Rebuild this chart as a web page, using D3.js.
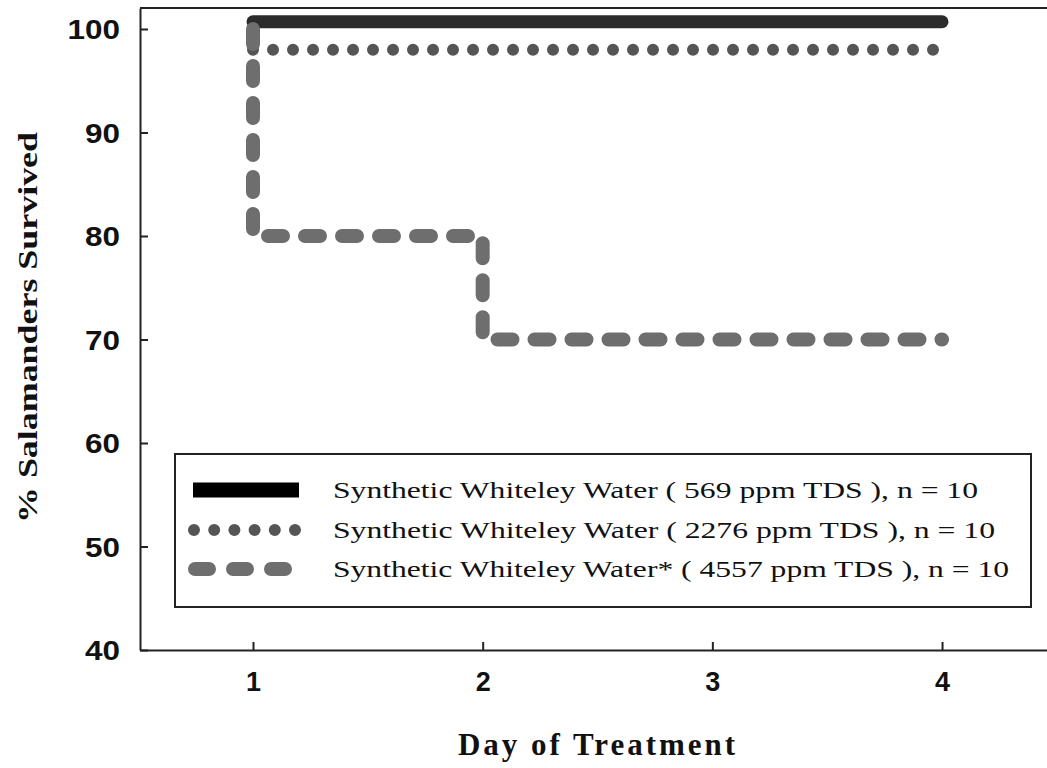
<!DOCTYPE html>
<html lang="en">
<head>
	<meta charset="UTF-8">
	<title>Salamander survival</title>
	<script src="https://cdn.jsdelivr.net/npm/d3@7"></script>
	<style>
		html,body{margin:0;padding:0;background:#fff;}
		svg{display:block;}
		.serif{font-family:"Liberation Serif","Times New Roman","DejaVu Serif",serif;}
	</style>
</head>
<body>
	<div id="main"></div>
	<script>
		// data
		var days = [1, 2, 3, 4];
		var yTicks = [40, 50, 60, 70, 80, 90, 100];
		var labels = [
			"Synthetic Whiteley Water ( 569 ppm TDS ), n = 10",
			"Synthetic Whiteley Water ( 2276 ppm TDS ), n = 10",
			"Synthetic Whiteley Water* ( 4557 ppm TDS ), n = 10"
		];
		var days569 = [1, 4], surv569 = [100.7, 100.7];
		var days2276 = [1, 4], surv2276 = [98, 98];
		var days4557 = [1, 1, 2, 4], surv4557 = [100, 80, 70, 70];

		var W = 1047, H = 768;
		var svg = d3.select("#main").append("svg").attr("width", W).attr("height", H);

		var x = d3.scaleLinear().domain([0.508, 4.457]).range([140, 1047]);
		var y = d3.scaleLinear().domain([40, 102]).range([650, 8.3]);

		var axisFont = "'Liberation Sans', Arial, sans-serif";

		// frame: left, bottom and top lines
		svg.append("line").attr("x1", 140).attr("x2", W).attr("y1", 8).attr("y2", 8)
			.attr("stroke", "#222").attr("stroke-width", 2);

		var xAxis = svg.append("g").attr("transform", "translate(0,650)")
			.call(d3.axisBottom(x).tickValues(days).tickSizeInner(-8).tickSizeOuter(0).tickPadding(22).tickFormat(d3.format("d")));
		var yAxis = svg.append("g").attr("transform", "translate(140,0)")
			.call(d3.axisLeft(y).tickValues(yTicks).tickSizeInner(-8).tickSizeOuter(0).tickPadding(20));
		[xAxis, yAxis].forEach(function(a){
			a.select(".domain").attr("stroke", "#222").attr("stroke-width", 2);
			a.selectAll(".tick line").attr("stroke", "#222").attr("stroke-width", 2);
			a.selectAll(".tick text").attr("fill", "#111").attr("font-family", axisFont)
				.attr("font-weight", "bold").attr("font-size", 27);
		});
		yAxis.selectAll(".tick text").attr("dy", "0.36em")
			.attr("textLength", function(d){ return String(d).length * 17.5; }).attr("lengthAdjust", "spacingAndGlyphs");

		// series
		var line = d3.line().x(function(d){ return x(d[0]); }).y(function(d){ return y(d[1]); });
		var stepLine = d3.line().curve(d3.curveStepAfter)
			.x(function(d){ return x(d[0]); }).y(function(d){ return y(d[1]); });

		svg.append("path").datum(d3.zip(days569, surv569)).attr("d", line)
			.attr("fill", "none").attr("stroke", "#2b2b2b").attr("stroke-width", 13).attr("stroke-linecap", "round");
		svg.append("path").datum(d3.zip(days2276, surv2276)).attr("d", line)
			.attr("fill", "none").attr("stroke", "#555").attr("stroke-width", 12)
			.attr("stroke-linecap", "round").attr("stroke-dasharray", "0 20");
		svg.append("path").datum(d3.zip(days4557, surv4557)).attr("d", stepLine)
			.attr("fill", "none").attr("stroke", "#6e6e6e").attr("stroke-width", 14)
			.attr("stroke-linecap", "round").attr("stroke-dasharray", "15 22");

		// legend
		var lg = svg.append("g");
		lg.append("rect").attr("x", 175).attr("y", 454).attr("width", 856).attr("height", 153)
			.attr("fill", "#fff").attr("stroke", "#222").attr("stroke-width", 2);
		var rowY = [490, 530, 569];
		lg.append("line").attr("x1", 193).attr("x2", 299).attr("y1", rowY[0]).attr("y2", rowY[0])
			.attr("stroke", "#000").attr("stroke-width", 15);
		lg.append("line").attr("x1", 194).attr("x2", 297).attr("y1", rowY[1]).attr("y2", rowY[1])
			.attr("stroke", "#555").attr("stroke-width", 12).attr("stroke-linecap", "round").attr("stroke-dasharray", "0 20.2");
		lg.append("line").attr("x1", 195).attr("x2", 294).attr("y1", rowY[2]).attr("y2", rowY[2])
			.attr("stroke", "#6e6e6e").attr("stroke-width", 14).attr("stroke-linecap", "round").attr("stroke-dasharray", "14 24");
		var ends = [978, 995, 1009];
		labels.forEach(function(t, i){
			lg.append("text").attr("class", "serif").attr("x", 333).attr("y", rowY[i] + 8).text(t)
				.attr("font-size", 24).attr("fill", "#111")
				.attr("textLength", ends[i] - 333).attr("lengthAdjust", "spacingAndGlyphs");
		});

		// axis titles
		svg.append("text").attr("class", "serif").attr("x", 458).attr("y", 755).text("Day of Treatment")
			.attr("font-weight", "bold").attr("font-size", 31).attr("fill", "#111")
			.attr("textLength", 277).attr("lengthAdjust", "spacing");
		svg.append("text").attr("class", "serif").attr("transform", "translate(37,523) rotate(-90)").text("% Salamanders Survived")
			.attr("font-weight", "bold").attr("font-size", 28).attr("fill", "#111")
			.attr("textLength", 391).attr("lengthAdjust", "spacingAndGlyphs");
	</script>
</body>
</html>
